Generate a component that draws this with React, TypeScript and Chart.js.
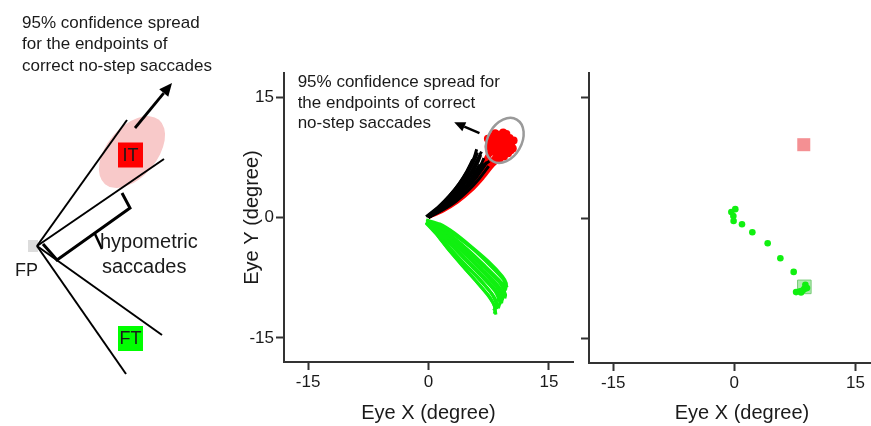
import React, { useEffect, useRef } from 'react';
import { Chart, registerables } from 'chart.js';

Chart.register(...registerables);

const FONT = "'Liberation Sans', Arial, Helvetica, sans-serif";
const AXIS = '#333333';
const TEXT = '#1a1a1a';
const GREEN = '#10f010';
const RED = '#ff0000';

// ---------- shared axis data ----------
const tickValues = [-15, 0, 15];
const axisTitleX = 'Eye X (degree)';
const axisTitleY = 'Eye Y (degree)';

// ---------- middle panel: eye trajectories (degrees) ----------
const redTrajectories: number[][][] = [
  [[0, 0], [1.7, 0.9], [3.4, 2.0], [5.0, 3.4], [6.4, 5.0], [7.6, 6.6], [8.6, 7.9], [9.6, 8.6]],
  [[0, 0], [1.7, 1.0], [3.4, 2.2], [4.9, 3.7], [6.2, 5.4], [7.3, 7.1], [8.2, 8.6], [8.8, 10.0]],
  [[0, 0], [1.8, 0.9], [3.5, 2.0], [5.1, 3.4], [6.6, 5.0], [7.9, 6.6], [9.0, 7.9], [10.4, 8.8]],
  [[0, 0], [1.6, 1.0], [3.2, 2.3], [4.7, 3.8], [6.0, 5.6], [7.1, 7.4], [7.8, 8.8], [8.2, 10.4]],
  [[0, 0], [1.8, 1.0], [3.6, 2.1], [5.2, 3.6], [6.7, 5.3], [8.0, 7.0], [9.2, 8.4], [10.2, 9.8]],
  [[0, 0], [1.7, 0.9], [3.5, 2.0], [5.1, 3.5], [6.5, 5.2], [7.6, 6.9], [8.4, 8.0], [7.6, 9.2]],
  [[0, 0], [1.8, 0.8], [3.6, 1.9], [5.3, 3.3], [6.8, 4.9], [8.1, 6.5], [9.2, 7.4], [10.6, 8.2]],
  [[0, 0], [1.6, 1.0], [3.3, 2.2], [4.8, 3.7], [6.1, 5.4], [7.2, 7.2], [8.4, 9.0], [9.6, 10.3]],
];
const redEndpoints: number[][] = [
  [7.6, 9.3], [8.2, 9.6], [8.8, 10.3], [9.4, 10.2], [10.1, 9.9], [10.3, 9.4], [9.6, 8.8],
  [9, 8.6], [8.4, 8.1], [7.8, 8.2], [10.5, 8.6], [10.1, 8.4], [9.4, 7.6], [8.6, 7.4],
  [8.9, 9.4], [9.8, 9.3], [8, 10.1], [7.5, 8.8], [10.6, 9.6], [9.3, 10.6], [9, 9],
  [8.5, 8.8], [9.5, 9.6], [8.8, 7.2], [9.9, 8.0], [8.3, 10.5], [7.4, 9.8], [9.7, 10.4],
  [10.3, 9.0], [8.1, 8.9], [9.2, 8.2],
];
const blackTrajectories: number[][][] = [
  [[0, 0], [1.4, 1.2], [2.8, 2.6], [4.0, 4.1], [5.0, 5.7], [5.8, 7.3], [6.1, 8.1]],
  [[0, 0], [1.5, 1.1], [3.0, 2.4], [4.3, 3.9], [5.4, 5.5], [6.2, 7.0], [6.5, 7.8]],
  [[0, 0], [1.6, 1.1], [3.1, 2.3], [4.5, 3.7], [5.7, 5.2], [6.6, 6.7], [6.9, 7.4]],
  [[0, 0], [1.7, 1.0], [3.3, 2.2], [4.7, 3.5], [5.9, 4.9], [6.9, 6.3], [7.3, 6.9]],
  [[0, 0], [1.7, 0.9], [3.4, 2.0], [4.9, 3.3], [6.2, 4.7], [7.2, 6.0], [7.5, 6.4]],
  [[-0.2, 0.1], [1.3, 1.3], [2.7, 2.8], [3.9, 4.3], [4.9, 5.9], [5.7, 7.5], [6.0, 8.5]],
  [[0, 0], [1.5, 1.2], [3.0, 2.5], [4.2, 4.0], [5.3, 5.6], [6.1, 7.2], [6.6, 8.2]],
  [[0, 0], [1.6, 1.0], [3.2, 2.2], [4.6, 3.6], [5.8, 5.0], [6.8, 6.5], [7.6, 7.0]],
  [[0, 0], [1.4, 1.2], [2.9, 2.5], [4.1, 3.9], [5.2, 5.4], [6.0, 6.8]],
  [[0, 0], [1.6, 1.1], [3.2, 2.3], [4.6, 3.8], [5.6, 5.3], [6.4, 6.6]],
  [[-0.3, 0.1], [1.2, 1.3], [2.6, 2.7], [3.8, 4.2], [4.8, 5.8], [5.5, 7.2]],
];
const greenTrajectories: number[][][] = [
  [[-0.3, -0.3], [1.4, -0.8], [3.2, -1.9], [5.2, -3.5], [7.4, -5.4], [9.2, -7.3], [9.7, -8.2], [9.6, -9]],
  [[-0.2, -0.4], [1.3, -1.1], [3, -2.4], [5, -4.1], [7, -6], [8.8, -7.8], [9.5, -8.8], [9.4, -9.6]],
  [[-0.2, -0.5], [1.2, -1.4], [2.9, -2.9], [4.8, -4.7], [6.8, -6.6], [8.6, -8.4], [9.3, -9.5], [9.2, -10.3]],
  [[-0.2, -0.5], [1.1, -1.6], [2.7, -3.3], [4.5, -5.2], [6.4, -7.1], [8.2, -8.9], [9, -10.1], [8.9, -10.8]],
  [[-0.2, -0.6], [1, -1.8], [2.5, -3.6], [4.3, -5.6], [6.2, -7.6], [7.9, -9.5], [8.6, -10.8], [8.5, -11.4]],
  [[-0.3, -0.7], [0.9, -2], [2.4, -3.9], [4.2, -6], [6, -8], [7.7, -10], [8.3, -11.3], [8.2, -12]],
  [[-0.2, -0.5], [1.3, -1.3], [3.3, -2.8], [5.4, -4.6], [7.4, -6.5], [9, -8.3], [9.6, -9.6], [9.5, -10.1]],
  [[-0.2, -0.4], [1.4, -1], [3.4, -2.3], [5.6, -4], [7.6, -5.9], [9.3, -7.7], [9.8, -8.7]],
  [[-0.2, -0.6], [1.1, -1.7], [2.8, -3.4], [4.7, -5.3], [6.6, -7.3], [8.3, -9.2], [8.9, -10.6], [8.7, -11.3]],
  [[-0.2, -0.5], [1.2, -1.5], [3, -3.1], [5, -5], [6.9, -6.9], [8.5, -8.7], [9.2, -9.9], [9.1, -10.7]],
  [[-0.3, -0.6], [1, -1.9], [2.6, -3.8], [4.5, -5.8], [6.4, -7.7], [8, -9.7], [8.5, -11], [8.1, -11.6]],
  [[-0.2, -0.5], [1.3, -1.2], [3.1, -2.6], [5.2, -4.4], [7.2, -6.3], [8.9, -8.1], [9.6, -9.2]],
  [[-0.2, -0.5], [1.1, -1.5], [2.8, -3.2], [4.6, -5.1], [6.5, -7.0], [8.0, -8.6], [8.8, -9.8], [8.6, -10.4]],
  [[-0.2, -0.5], [1.2, -1.3], [3.0, -2.7], [4.9, -4.4], [6.9, -6.2], [8.7, -7.9], [9.7, -8.4]],
  [[-0.3, -0.6], [0.9, -1.9], [2.3, -3.7], [4.0, -5.7], [5.8, -7.8], [7.4, -9.7], [8.2, -11.0], [8.4, -12.1]],
];
const spreadEllipse = { cx: 9.5, cy: 9.6, a: 3.0, b: 2.1, angleDeg: -60 };
const midArrow = { from: [6.35, 10.5], to: [3.2, 11.85] };
const midNoteLines = ['95% confidence spread for', 'the endpoints of correct', 'no-step saccades'];
const midNoteAnchor = { x: -16.3, yTop: 16.8, yStep: -2.55 };

// ---------- right panel: landing positions (degrees) ----------
const landingX = [-0.37, 0.12, -0.12, -0.09, 0.95, 2.23, 4.13, 5.7, 7.35, 7.65, 8.26, 8.67, 8.8, 8.46, 8.14, 9.0];
const landingY = [0.74, 1.1, 0.25, -0.37, -0.78, -1.77, -3.13, -5.0, -6.69, -9.2, -9.25, -8.8, -8.3, -9.0, -9.1, -8.7];
const initialTarget = [8.6, 9.1];
const finalTarget = [8.67, -8.55];

// ---------- left panel: schematic (schematic units) ----------
const fpPoint = [37, 246];
const rayEnds = [[127, 120], [164, 159], [162, 335], [126, 374]];
const bracketPath = [[43, 244], [57, 260], [130, 208], [122, 193]];
const bracketPointer = [[95, 234], [102, 249]];
const itPos = [130.5, 155];
const ftPos = [130.5, 338.5];
const pinkSpread = { cx: 132, cy: 152, a: 42, b: 25, angleDeg: -50 };
const leftArrow = { from: [135, 128], to: [172, 83] };
const leftNoteLines = ['95% confidence spread', 'for the endpoints of', 'correct no-step saccades'];
const leftNoteAnchor = { x: 22, yTop: 23, yStep: 21.5 };
const hypoLines = ['hypometric', 'saccades'];
const hypoAnchor = { x: 100, yTop: 242, yStep: 25 };
const fpLabel = { text: 'FP', x: 15, y: 271 };

const toXY = (pts: number[][]) => pts.map(([x, y]) => ({ x, y }));

function drawArrow(ctx: CanvasRenderingContext2D, x1: number, y1: number, x2: number, y2: number, head: number, width: number) {
  const ang = Math.atan2(y2 - y1, x2 - x1);
  const bx = x2 - head * Math.cos(ang);
  const by = y2 - head * Math.sin(ang);
  ctx.save();
  ctx.strokeStyle = '#000';
  ctx.fillStyle = '#000';
  ctx.lineWidth = width;
  ctx.beginPath();
  ctx.moveTo(x1, y1);
  ctx.lineTo(bx, by);
  ctx.stroke();
  ctx.beginPath();
  ctx.moveTo(x2, y2);
  ctx.lineTo(bx + head * 0.45 * Math.sin(ang), by - head * 0.45 * Math.cos(ang));
  ctx.lineTo(bx - head * 0.45 * Math.sin(ang), by + head * 0.45 * Math.cos(ang));
  ctx.closePath();
  ctx.fill();
  ctx.restore();
}

function xAxis(min: number, max: number, height: number) {
  return {
    type: 'linear',
    min,
    max,
    bounds: 'data',
    afterBuildTicks: (s: any) => {
      s.ticks = tickValues.map((v) => ({ value: v }));
    },
    grid: { display: true, drawOnChartArea: false, drawTicks: true, tickLength: 8, tickWidth: 2, tickColor: AXIS },
    border: { display: true, color: AXIS, width: 2 },
    ticks: { font: { family: FONT, size: 17 }, color: TEXT, padding: 2, maxRotation: 0, autoSkip: false },
    title: { display: true, text: axisTitleX, font: { family: FONT, size: 20 }, color: TEXT, padding: { top: 0, bottom: 1 } },
    afterFit: (s: any) => {
      s.height = height;
      s.paddingLeft = 0;
      s.paddingRight = 0;
    },
  };
}

function yAxis(width: number, showLabels: boolean) {
  return {
    type: 'linear',
    min: -18,
    max: 18,
    bounds: 'data',
    afterBuildTicks: (s: any) => {
      s.ticks = tickValues.map((v) => ({ value: v }));
    },
    grid: { display: true, drawOnChartArea: false, drawTicks: true, tickLength: 8, tickWidth: 2, tickColor: AXIS },
    border: { display: true, color: AXIS, width: 2 },
    ticks: { display: showLabels, font: { family: FONT, size: 17 }, color: TEXT, padding: 2, autoSkip: false },
    title: { display: showLabels, text: axisTitleY, font: { family: FONT, size: 20 }, color: TEXT, padding: { top: 10, bottom: 0 } },
    afterFit: (s: any) => {
      s.width = width;
      s.paddingTop = 0;
      s.paddingBottom = 0;
    },
  };
}

const baseOptions = {
  responsive: false,
  animation: false,
  devicePixelRatio: 1,
  plugins: { legend: { display: false }, tooltip: { enabled: false } },
  events: [],
};

function middleConfig(): any {
  const datasets: any[] = [];
  greenTrajectories.forEach((t) =>
    datasets.push({ data: toXY(t), showLine: true, borderColor: GREEN, borderWidth: 3, pointRadius: 0, tension: 0.2, order: 1 })
  );
  blackTrajectories.forEach((t) =>
    datasets.push({ data: toXY(t), showLine: true, borderColor: '#000', borderWidth: 3, pointRadius: 0, tension: 0.2, order: 2 })
  );
  datasets.push({ data: toXY(redEndpoints), showLine: false, pointRadius: 4, backgroundColor: RED, borderWidth: 0, order: 3 });
  redTrajectories.forEach((t) =>
    datasets.push({ data: toXY(t), showLine: true, borderColor: RED, borderWidth: 3, pointRadius: 0, tension: 0.2, order: 4 })
  );
  const anno = {
    id: 'midAnno',
    afterDatasetsDraw(chart: any) {
      const { ctx, scales } = chart;
      const x = scales.x;
      const y = scales.y;
      const ux = x.getPixelForValue(1) - x.getPixelForValue(0);
      ctx.save();
      ctx.strokeStyle = '#9a9a9a';
      ctx.lineWidth = 2.5;
      ctx.beginPath();
      ctx.ellipse(
        x.getPixelForValue(spreadEllipse.cx),
        y.getPixelForValue(spreadEllipse.cy),
        spreadEllipse.a * ux,
        spreadEllipse.b * ux,
        (spreadEllipse.angleDeg * Math.PI) / 180,
        0,
        Math.PI * 2
      );
      ctx.stroke();
      ctx.restore();
      drawArrow(
        ctx,
        x.getPixelForValue(midArrow.from[0]),
        y.getPixelForValue(midArrow.from[1]),
        x.getPixelForValue(midArrow.to[0]),
        y.getPixelForValue(midArrow.to[1]),
        11,
        2.5
      );
      ctx.save();
      ctx.fillStyle = TEXT;
      ctx.font = `17px ${FONT}`;
      ctx.textAlign = 'left';
      ctx.textBaseline = 'middle';
      midNoteLines.forEach((line, i) => {
        ctx.fillText(line, x.getPixelForValue(midNoteAnchor.x), y.getPixelForValue(midNoteAnchor.yTop + i * midNoteAnchor.yStep));
      });
      ctx.restore();
    },
  };
  return {
    type: 'scatter',
    data: { datasets },
    options: {
      ...baseOptions,
      layout: { autoPadding: false, padding: { left: 0, top: 73, right: 7, bottom: 0 } },
      scales: { x: xAxis(-18, 18, 64), y: yAxis(54, true) },
    },
    plugins: [anno],
  };
}

function rightConfig(): any {
  const landing = landingX.map((x, i) => ({ x, y: landingY[i] }));
  return {
    type: 'scatter',
    data: {
      datasets: [
        { data: landing, pointRadius: 3.3, backgroundColor: GREEN, borderWidth: 0, order: 1 },
        {
          data: [{ x: finalTarget[0], y: finalTarget[1] }],
          pointStyle: 'rect',
          pointRadius: 9.6,
          backgroundColor: 'rgba(150,225,150,0.75)',
          borderColor: 'rgba(110,200,110,0.9)',
          borderWidth: 1,
          order: 2,
        },
        {
          data: [{ x: initialTarget[0], y: initialTarget[1] }],
          pointStyle: 'rect',
          pointRadius: 9.2,
          backgroundColor: 'rgba(242,125,128,0.85)',
          borderWidth: 0,
          order: 2,
        },
      ],
    },
    options: {
      ...baseOptions,
      layout: { autoPadding: false, padding: { left: 0, top: 73, right: 0, bottom: 0 } },
      scales: { x: xAxis(-18, 19.9, 63), y: yAxis(9, false) },
    },
  };
}

function leftConfig(): any {
  const datasets: any[] = [];
  rayEnds.forEach((e) =>
    datasets.push({ data: toXY([fpPoint, e]), showLine: true, borderColor: '#000', borderWidth: 2, pointRadius: 0 })
  );
  datasets.push({ data: toXY(bracketPath), showLine: true, borderColor: '#000', borderWidth: 3, pointRadius: 0 });
  datasets.push({ data: toXY(bracketPointer), showLine: true, borderColor: '#000', borderWidth: 2.5, pointRadius: 0 });
  const anno = {
    id: 'leftAnno',
    beforeDatasetsDraw(chart: any) {
      const { ctx, scales } = chart;
      const x = scales.x;
      const y = scales.y;
      ctx.save();
      ctx.fillStyle = '#f8c9c9';
      ctx.beginPath();
      ctx.ellipse(
        x.getPixelForValue(pinkSpread.cx),
        y.getPixelForValue(pinkSpread.cy),
        pinkSpread.a,
        pinkSpread.b,
        (pinkSpread.angleDeg * Math.PI) / 180,
        0,
        Math.PI * 2
      );
      ctx.fill();
      ctx.fillStyle = '#dcdcdc';
      ctx.fillRect(x.getPixelForValue(fpPoint[0]) - 9, y.getPixelForValue(fpPoint[1]) - 6, 10, 12);
      ctx.restore();
    },
    afterDatasetsDraw(chart: any) {
      const { ctx, scales } = chart;
      const x = scales.x;
      const y = scales.y;
      ctx.save();
      const sq = (p: number[], color: string, label: string) => {
        const cx = x.getPixelForValue(p[0]);
        const cy = y.getPixelForValue(p[1]);
        ctx.fillStyle = color;
        ctx.fillRect(cx - 12.5, cy - 12.5, 25, 25);
        ctx.fillStyle = TEXT;
        ctx.font = `18px ${FONT}`;
        ctx.textAlign = 'center';
        ctx.textBaseline = 'middle';
        ctx.fillText(label, cx, cy + 1);
      };
      sq(itPos, '#ff0000', 'IT');
      sq(ftPos, '#00ff00', 'FT');
      ctx.fillStyle = TEXT;
      ctx.textAlign = 'left';
      ctx.textBaseline = 'middle';
      ctx.font = `17px ${FONT}`;
      leftNoteLines.forEach((l, i) =>
        ctx.fillText(l, x.getPixelForValue(leftNoteAnchor.x), y.getPixelForValue(leftNoteAnchor.yTop + i * leftNoteAnchor.yStep))
      );
      ctx.font = `20px ${FONT}`;
      hypoLines.forEach((l, i) =>
        ctx.fillText(l, x.getPixelForValue(hypoAnchor.x + (i === 1 ? 2 : 0)), y.getPixelForValue(hypoAnchor.yTop + i * hypoAnchor.yStep))
      );
      ctx.font = `18px ${FONT}`;
      ctx.fillText(fpLabel.text, x.getPixelForValue(fpLabel.x), y.getPixelForValue(fpLabel.y));
      ctx.restore();
      drawArrow(
        ctx,
        x.getPixelForValue(leftArrow.from[0]),
        y.getPixelForValue(leftArrow.from[1]),
        x.getPixelForValue(leftArrow.to[0]),
        y.getPixelForValue(leftArrow.to[1]),
        13,
        2.8
      );
    },
  };
  return {
    type: 'scatter',
    data: { datasets },
    options: {
      ...baseOptions,
      layout: { autoPadding: false, padding: 0 },
      scales: {
        x: { type: 'linear', min: 0, max: 230, display: false },
        y: { type: 'linear', min: 0, max: 426, reverse: true, display: false },
      },
    },
    plugins: [anno],
  };
}

export default function App() {
  const leftRef = useRef<HTMLCanvasElement>(null);
  const midRef = useRef<HTMLCanvasElement>(null);
  const rightRef = useRef<HTMLCanvasElement>(null);

  useEffect(() => {
    const charts = [
      new Chart(leftRef.current as HTMLCanvasElement, leftConfig()),
      new Chart(midRef.current as HTMLCanvasElement, middleConfig()),
      new Chart(rightRef.current as HTMLCanvasElement, rightConfig()),
    ];
    return () => charts.forEach((c) => c.destroy());
  }, []);

  return (
    <div style={{ position: 'absolute', left: 0, top: 0, width: 871, height: 426, overflow: 'hidden', background: '#fff' }}>
      <canvas ref={leftRef} width={230} height={426} style={{ position: 'absolute', left: 0, top: 0 }} />
      <canvas ref={midRef} width={350} height={426} style={{ position: 'absolute', left: 230, top: 0 }} />
      <canvas ref={rightRef} width={315} height={426} style={{ position: 'absolute', left: 580, top: 0 }} />
    </div>
  );
}
